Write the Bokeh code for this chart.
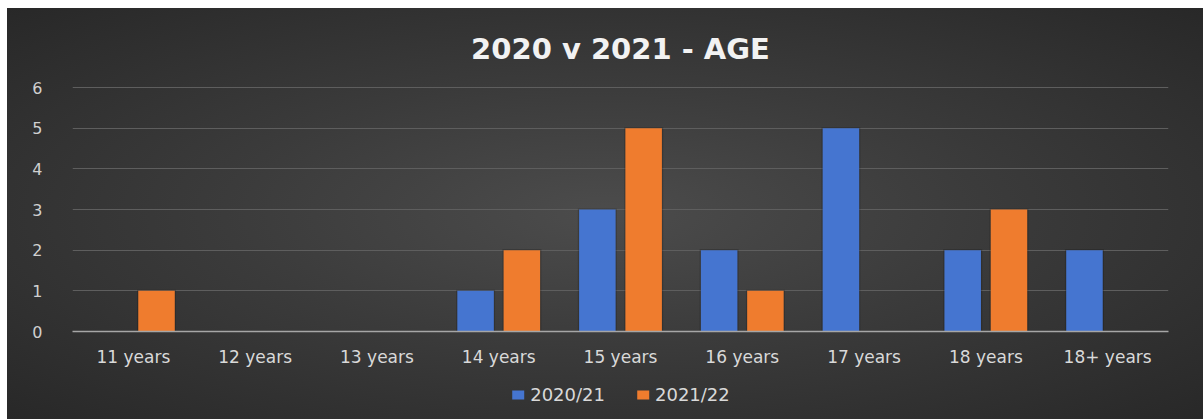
from bokeh.plotting import figure
from bokeh.models import Legend, LegendItem, ColumnDataSource
from bokeh.layouts import column
from bokeh.transform import dodge
from bokeh.embed import file_html
from bokeh.resources import INLINE

categories = ["11 years", "12 years", "13 years", "14 years", "15 years",
              "16 years", "17 years", "18 years", "18+ years"]
series_2020 = [0, 0, 0, 1, 3, 2, 5, 2, 2]
series_2021 = [1, 0, 0, 2, 5, 1, 0, 3, 0]
series_names = ["2020/21", "2021/22"]
series_colors = ["#4575d0", "#ef7c2e"]
y_ticks = [0, 1, 2, 3, 4, 5, 6]

src = ColumnDataSource(dict(cat=categories, a=series_2020, b=series_2021,
                            a_sh=[v + 0.03 if v > 0 else 0 for v in series_2020],
                            b_sh=[v + 0.03 if v > 0 else 0 for v in series_2021]))

p = figure(x_range=categories, y_range=(0, 6.03), width=1196, height=372,
           output_backend="svg", toolbar_location=None,
           title="2020 v 2021 - AGE")
p.border_fill_color = None
p.background_fill_color = None
p.outline_line_color = None
p.min_border_left = 65
p.min_border_right = 35
p.min_border_top = 78
p.min_border_bottom = 49

p.title.text_font = "DejaVu Sans"
p.title.text_font_size = "29px"
p.title.text_font_style = "bold"
p.title.text_color = "#f2f2f2"
p.title.align = "center"
p.title.offset = 0
p.title.standoff = 42

# soft shadows behind the bars
p.vbar(x=dodge("cat", -0.19, range=p.x_range), top="a_sh", width=0.32, source=src,
       fill_color="#151515", fill_alpha=0.25, line_color=None)
p.vbar(x=dodge("cat", 0.19, range=p.x_range), top="b_sh", width=0.32, source=src,
       fill_color="#151515", fill_alpha=0.25, line_color=None)
p.vbar(x=dodge("cat", -0.19, range=p.x_range), top="a", width=0.3, source=src,
       fill_color=series_colors[0], line_color=None)
p.vbar(x=dodge("cat", 0.19, range=p.x_range), top="b", width=0.3, source=src,
       fill_color=series_colors[1], line_color=None)

p.xgrid.grid_line_color = None
p.ygrid.grid_line_color = "#5e5e5e"
p.ygrid.grid_line_width = 1
p.yaxis.ticker = y_ticks

p.yaxis.axis_line_color = None
p.yaxis.major_tick_line_color = None
p.yaxis.minor_tick_line_color = None
p.yaxis.major_label_text_font = "DejaVu Sans"
p.yaxis.major_label_text_font_size = "16px"
p.yaxis.major_label_text_color = "#d0d0d0"
p.yaxis.major_label_standoff = 24

p.xaxis.axis_line_color = "#a6a6a6"
p.xaxis.axis_line_width = 1.5
p.xaxis.major_tick_line_color = None
p.xaxis.minor_tick_line_color = None
p.xaxis.major_label_text_font = "DejaVu Sans"
p.xaxis.major_label_text_font_size = "17px"
p.xaxis.major_label_text_color = "#d9d9d9"
p.xaxis.major_label_standoff = 9

# legend strip (proxy glyphs have zero height, so only their legend swatches show)
q = figure(x_range=(0, 1), y_range=(0, 1), width=1196, height=39,
           output_backend="svg", toolbar_location=None)
q.border_fill_color = None
q.background_fill_color = None
q.outline_line_color = None
q.axis.visible = False
q.grid.visible = False
q.min_border_left = 65
q.min_border_right = 35
q.min_border_top = 0
q.min_border_bottom = 0
proxy = ColumnDataSource(dict(x=[0.5], top=[0]))
la = q.vbar(x="x", top="top", bottom=0, width=0.0, source=proxy,
            fill_color=series_colors[0], line_color=None)
lb = q.vbar(x="x", top="top", bottom=0, width=0.0, source=proxy,
            fill_color=series_colors[1], line_color=None)

legend = Legend(items=[LegendItem(label=series_names[0], renderers=[la]),
                       LegendItem(label=series_names[1], renderers=[lb])],
                orientation="horizontal", location="top_center")
legend.label_text_font = "DejaVu Sans"
legend.label_text_font_size = "18px"
legend.label_text_color = "#d9d9d9"
legend.glyph_width = 15
legend.glyph_height = 11
legend.spacing = 30
legend.label_standoff = 5
legend.background_fill_alpha = 0
legend.border_line_alpha = 0
legend.padding = 2
legend.margin = 2
q.add_layout(legend, "center")

layout = column(p, q, spacing=0)
layout.margin = (8, 0, 0, 7)
layout.styles = {"background": "radial-gradient(ellipse at 50% 50%, #4c4c4c 0%, #3b3b3b 45%, #282828 100%)"}

open("out.html", "w").write(file_html(layout, INLINE))
